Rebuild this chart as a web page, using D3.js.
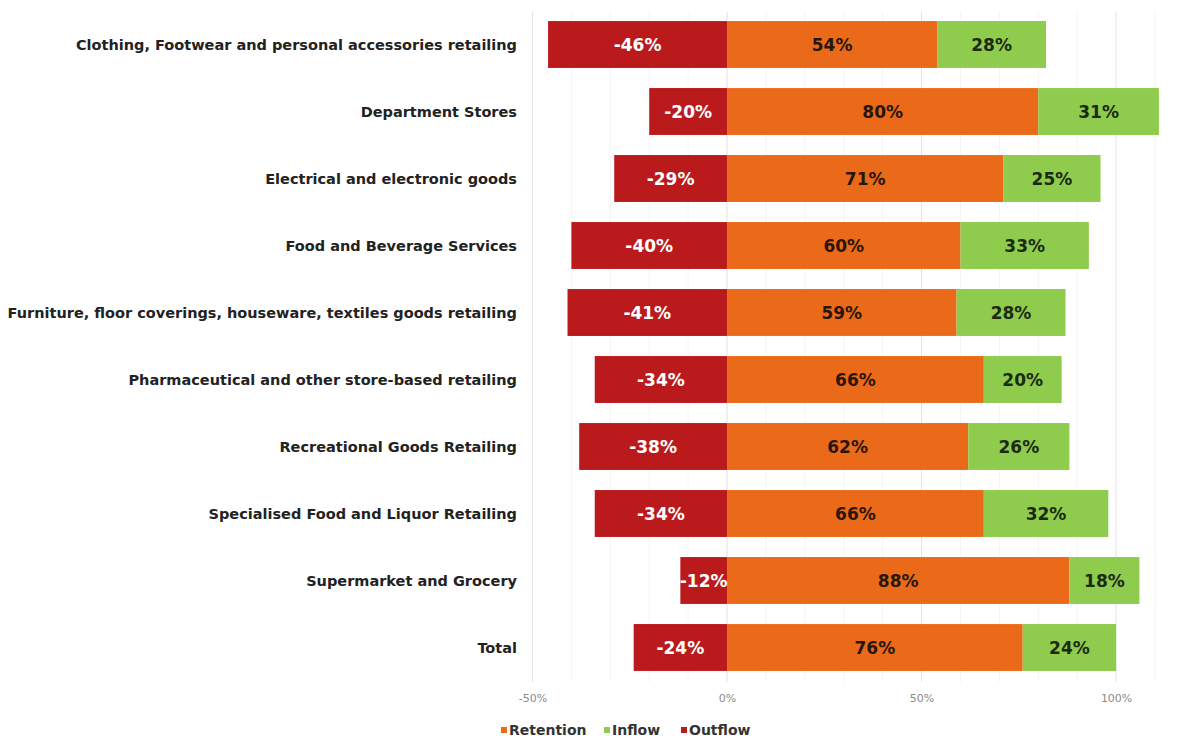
<!DOCTYPE html>
<html>
<head>
<meta charset="utf-8">
<script src="https://cdn.jsdelivr.net/npm/d3@7"></script>
<style>
  html, body { margin: 0; padding: 0; background: #ffffff; }
  svg { display: block; }
</style>
</head>
<body>
<svg id="chart" width="1181" height="738"></svg>
<script>
// Retail spend flows by category: share retained, inflow from outside, and outflow
const categories = [
  "Clothing, Footwear and personal accessories retailing",
  "Department Stores",
  "Electrical and electronic goods",
  "Food and Beverage Services",
  "Furniture, floor coverings, houseware, textiles goods retailing",
  "Pharmaceutical and other store-based retailing",
  "Recreational Goods Retailing",
  "Specialised Food and Liquor Retailing",
  "Supermarket and Grocery",
  "Total"
];
const outflow   = [-46, -20, -29, -40, -41, -34, -38, -34, -12, -24];
const retention = [54, 80, 71, 60, 59, 66, 62, 66, 88, 76];
const inflow    = [28, 31, 25, 33, 28, 20, 26, 32, 18, 24];
const tickValues = [-50, 0, 50, 100];
const seriesNames = ["Retention", "Inflow", "Outflow"];

const colors = { Retention: "#ea6a1a", Inflow: "#8fcb4c", Outflow: "#bb1a1c" };
const labelColors = { Retention: "#2a1608", Inflow: "#1b2a10", Outflow: "#ffffff" };

const svg = d3.select("#chart");
const font = "'DejaVu Sans', sans-serif";

const x = d3.scaleLinear().domain([-50, 110]).range([532.5, 1155]);
const y = d3.scaleBand().domain(categories).range([11, 681]).paddingInner(0.3).paddingOuter(0.15);

// Gridlines: faint minor every 10%, slightly stronger at the labelled ticks
const grid = svg.append("g");
grid.selectAll("line.minor")
  .data(d3.range(-50, 111, 10).filter(v => !tickValues.includes(v)))
  .join("line")
  .attr("x1", d => x(d)).attr("x2", d => x(d))
  .attr("y1", 12).attr("y2", 682)
  .attr("stroke", "#f4f4f4").attr("stroke-width", 1);
grid.selectAll("line.major")
  .data(tickValues)
  .join("line")
  .attr("x1", d => x(d)).attr("x2", d => x(d))
  .attr("y1", 12).attr("y2", 682)
  .attr("stroke", "#e2e2e2").attr("stroke-width", 1);

// Build stacked segments per row
const rows = categories.map((c, i) => ({
  cat: c,
  segs: [
    { name: "Outflow", x0: outflow[i], x1: 0, v: outflow[i] },
    { name: "Retention", x0: 0, x1: retention[i], v: retention[i] },
    { name: "Inflow", x0: retention[i], x1: retention[i] + inflow[i], v: inflow[i] }
  ]
}));

const rowG = svg.append("g").selectAll("g")
  .data(rows)
  .join("g")
  .attr("transform", d => `translate(0,${y(d.cat)})`);

rowG.selectAll("rect")
  .data(d => d.segs)
  .join("rect")
  .attr("x", d => x(d.x0))
  .attr("width", d => x(d.x1) - x(d.x0))
  .attr("y", 0)
  .attr("height", y.bandwidth())
  .attr("fill", d => colors[d.name]);

rowG.selectAll("text")
  .data(d => d.segs)
  .join("text")
  .attr("x", d => (x(d.x0) + x(d.x1)) / 2)
  .attr("y", y.bandwidth() / 2)
  .attr("dy", "0.36em")
  .attr("text-anchor", "middle")
  .attr("font-family", font)
  .attr("font-weight", "bold")
  .attr("font-size", 17)
  .attr("fill", d => labelColors[d.name])
  .text(d => d.v + "%");

// Category axis labels
svg.append("g").selectAll("text")
  .data(categories)
  .join("text")
  .attr("x", 517)
  .attr("y", d => y(d) + y.bandwidth() / 2)
  .attr("dy", "0.36em")
  .attr("text-anchor", "end")
  .attr("font-family", font)
  .attr("font-weight", "bold")
  .attr("font-size", 14.5)
  .attr("fill", "#222222")
  .text(d => d);

// Value axis
const xAxis = d3.axisBottom(x)
  .tickValues(tickValues)
  .tickFormat(d => d + "%")
  .tickSize(0)
  .tickPadding(0);
const axisG = svg.append("g")
  .attr("transform", "translate(0,694)")
  .call(xAxis);
axisG.select(".domain").remove();
axisG.selectAll("text")
  .attr("font-family", font)
  .attr("font-size", 11)
  .attr("fill", "#8a8a8a");

// Legend
const legendX = [501, 604, 681];
const legend = svg.append("g").selectAll("g")
  .data(seriesNames)
  .join("g")
  .attr("transform", (d, i) => `translate(${legendX[i]},730)`);
legend.append("rect")
  .attr("x", 0).attr("y", -3)
  .attr("width", 6).attr("height", 6)
  .attr("fill", d => colors[d]);
legend.append("text")
  .attr("x", 8).attr("y", 0)
  .attr("dy", "0.36em")
  .attr("font-family", font)
  .attr("font-weight", "bold")
  .attr("font-size", 14)
  .attr("fill", "#333333")
  .text(d => d);
</script>
</body>
</html>
